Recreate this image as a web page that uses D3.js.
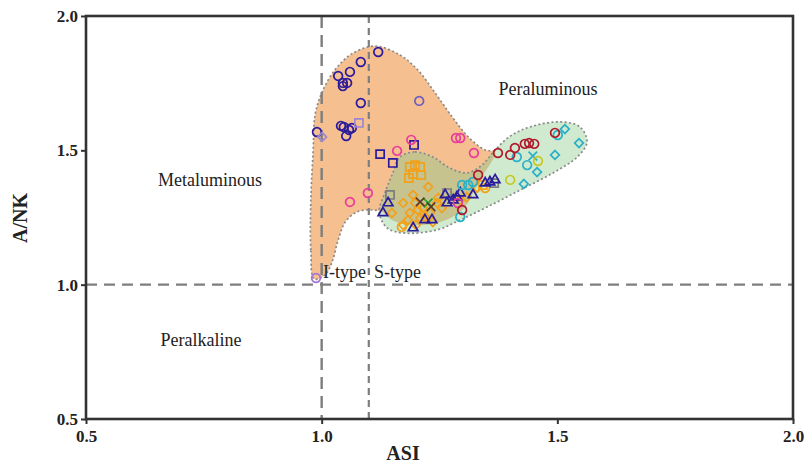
<!DOCTYPE html>
<html>
<head>
<meta charset="utf-8">
<script src="https://cdn.jsdelivr.net/npm/d3@7"></script>
<style>
  body { margin: 0; background: #fff; }
  text { font-family: "Liberation Serif", "DejaVu Serif", serif; }
</style>
</head>
<body>
<svg id="chart" width="808" height="466"></svg>
<script>
// ---- Axes ----
const xTicks = [0.5, 1.0, 1.5, 2.0];
const yTicks = [0.5, 1.0, 1.5, 2.0];
const xTickLabels = ["0.5", "1.0", "1.5", "2.0"];
const yTickLabels = ["0.5", "1.0", "1.5", "2.0"];

// ---- Reference lines (ASI = 1.0, ASI = 1.1, A/NK = 1.0) ----
const asiMeta = 1.0;
const asiIS = 1.1;
const ankAlk = 1.0;

// ---- Sample fields [ASI, A/NK] ----
const orangeField = [
  [0.984, 1.021], [0.977, 1.129], [0.977, 1.315], [0.982, 1.501], [0.986, 1.632],
  [1.001, 1.717], [1.028, 1.799], [1.064, 1.859], [1.113, 1.888], [1.166, 1.855],
  [1.204, 1.799], [1.241, 1.713], [1.277, 1.624], [1.311, 1.550], [1.347, 1.501],
  [1.368, 1.494], [1.336, 1.390], [1.298, 1.278], [1.251, 1.233], [1.187, 1.222],
  [1.149, 1.241], [1.128, 1.271], [1.107, 1.278], [1.075, 1.271], [1.050, 1.233],
  [1.035, 1.166], [1.022, 1.084], [1.007, 1.036]
];
const greenField = [
  [1.166, 1.475], [1.198, 1.494], [1.236, 1.475], [1.272, 1.434], [1.308, 1.416],
  [1.340, 1.445], [1.368, 1.501], [1.400, 1.553], [1.442, 1.587], [1.506, 1.606],
  [1.548, 1.587], [1.563, 1.531], [1.542, 1.475], [1.491, 1.416], [1.421, 1.352],
  [1.351, 1.289], [1.294, 1.241], [1.245, 1.204], [1.177, 1.192], [1.139, 1.211],
  [1.122, 1.271], [1.134, 1.341], [1.151, 1.416]
];

// ---- Samples [ASI, A/NK] ----
const navyCircles = [
  [1.120, 1.866], [1.083, 1.829], [1.060, 1.792], [1.035, 1.777], [1.045, 1.751],
  [1.054, 1.751], [1.045, 1.739], [1.083, 1.676], [0.990, 1.568], [1.041, 1.591],
  [1.047, 1.587], [1.064, 1.583], [1.058, 1.576], [1.052, 1.553]
];
const slateCircles = [[1.207, 1.684]];
const violetCircles = [[0.988, 1.025]];
const violetSquares = [[1.079, 1.602]];
const violetDiamonds = [[1.001, 1.550]];
const navySquares = [[1.124, 1.486], [1.151, 1.453], [1.196, 1.520]];
const pinkCircles = [
  [1.160, 1.498], [1.190, 1.539], [1.285, 1.546], [1.294, 1.546], [1.323, 1.490],
  [1.060, 1.308], [1.098, 1.341], [1.289, 1.304]
];
const orangeSquares = [
  [1.187, 1.438], [1.198, 1.445], [1.209, 1.438], [1.194, 1.412], [1.211, 1.408],
  [1.185, 1.397], [1.342, 1.371]
];
const orangeDiamonds = [
  [1.226, 1.364], [1.149, 1.267], [1.194, 1.334], [1.173, 1.304], [1.198, 1.304],
  [1.204, 1.278], [1.215, 1.285], [1.187, 1.267], [1.209, 1.248], [1.219, 1.252],
  [1.173, 1.222], [1.247, 1.323], [1.255, 1.285], [1.245, 1.304], [1.294, 1.315],
  [1.308, 1.326], [1.330, 1.360], [1.183, 1.241], [1.230, 1.267], [1.236, 1.233],
  [1.200, 1.222]
];
const orangeCircles = [[1.347, 1.360], [1.170, 1.215]];
const navyTriangles = [
  [1.141, 1.304], [1.130, 1.267], [1.194, 1.211], [1.219, 1.241], [1.234, 1.241],
  [1.266, 1.304], [1.279, 1.315], [1.262, 1.334], [1.294, 1.341], [1.321, 1.334],
  [1.347, 1.378], [1.357, 1.382], [1.368, 1.390], [1.287, 1.326]
];
const greySquares = [[1.145, 1.334], [1.266, 1.341], [1.366, 1.378]];
const tealCircles = [
  [1.298, 1.371], [1.311, 1.371], [1.321, 1.382], [1.294, 1.252], [1.414, 1.475],
  [1.436, 1.445], [1.501, 1.557]
];
const tealDiamonds = [
  [1.516, 1.579], [1.546, 1.527], [1.495, 1.483], [1.457, 1.419], [1.429, 1.375]
];
const tealCrosses = [[1.448, 1.479]];
const redCircles = [
  [1.374, 1.490], [1.400, 1.483], [1.410, 1.509], [1.431, 1.524], [1.440, 1.527],
  [1.451, 1.524], [1.495, 1.565], [1.332, 1.408], [1.298, 1.278]
];
const limeCircles = [[1.459, 1.460], [1.400, 1.390]];
const greenCrosses = [[1.226, 1.304]];
const darkCrosses = [[1.209, 1.308], [1.232, 1.290]];

// ---- Marker styles per sample group ----
const groups = [
  { pts: orangeDiamonds, shape: "diamond", color: "#f2a11a" },
  { pts: orangeSquares, shape: "square", color: "#f2a11a" },
  { pts: orangeCircles, shape: "circle", color: "#f2a11a" },
  { pts: greySquares, shape: "square", color: "#7c7c7c" },
  { pts: navyTriangles, shape: "triangle", color: "#2a1a9c" },
  { pts: navyCircles, shape: "circle", color: "#2a1a9c" },
  { pts: navySquares, shape: "square", color: "#2a1a9c" },
  { pts: slateCircles, shape: "circle", color: "#6f5cc0" },
  { pts: violetCircles, shape: "circle", color: "#a474d6" },
  { pts: violetSquares, shape: "square", color: "#9c86d2" },
  { pts: violetDiamonds, shape: "diamond", color: "#9c86d2" },
  { pts: pinkCircles, shape: "circle", color: "#ea3c9c" },
  { pts: tealCircles, shape: "circle", color: "#2ab0c8" },
  { pts: tealDiamonds, shape: "diamond", color: "#2ab0c8" },
  { pts: tealCrosses, shape: "x", color: "#2ab0c8" },
  { pts: redCircles, shape: "circle", color: "#b2182b" },
  { pts: limeCircles, shape: "circle", color: "#c6c822" },
  { pts: greenCrosses, shape: "x", color: "#2ca02c" },
  { pts: darkCrosses, shape: "x", color: "#5a3a2a" }
];

// ---- Layout ----
const svg = d3.select("#chart");
const x = d3.scaleLinear().domain([0.5, 2.0]).range([86, 793]);
const y = d3.scaleLinear().domain([0.5, 2.0]).range([419, 16]);

const defs = svg.append("defs");
const line = d3.line().x(d => x(d[0])).y(d => y(d[1])).curve(d3.curveCatmullRomClosed.alpha(0.5));

defs.append("clipPath").attr("id", "orangeClip")
  .append("path").attr("d", line(orangeField));
const mask = defs.append("mask").attr("id", "outsideGreen");
mask.append("rect").attr("x", 0).attr("y", 0).attr("width", 808).attr("height", 466).attr("fill", "#fff");
mask.append("path").attr("d", line(greenField)).attr("fill", "#000");

// Fields
svg.append("path").attr("d", line(orangeField)).attr("fill", "#f6bf90");
svg.append("path").attr("d", line(greenField)).attr("fill", "#d0eacf");
svg.append("path").attr("d", line(greenField)).attr("fill", "#c6c38f")
  .attr("clip-path", "url(#orangeClip)");
svg.append("path").attr("d", line(orangeField)).attr("fill", "none")
  .attr("stroke", "#8a8a8a").attr("stroke-width", 1.7).attr("stroke-dasharray", "2,2.4")
  .attr("mask", "url(#outsideGreen)");
svg.append("path").attr("d", line(greenField)).attr("fill", "none")
  .attr("stroke", "#8a8a8a").attr("stroke-width", 1.7).attr("stroke-dasharray", "2,2.4");

// Reference lines
const refColor = "#7e7e7e";
svg.append("line").attr("x1", x(asiMeta)).attr("x2", x(asiMeta)).attr("y1", y(2.0)).attr("y2", y(0.5))
  .attr("stroke", refColor).attr("stroke-width", 2.4).attr("stroke-dasharray", "12,7");
svg.append("line").attr("x1", x(asiIS)).attr("x2", x(asiIS)).attr("y1", y(2.0)).attr("y2", y(0.5))
  .attr("stroke", refColor).attr("stroke-width", 2.2).attr("stroke-dasharray", "7,5");
svg.append("line").attr("x1", x(0.5)).attr("x2", x(2.0)).attr("y1", y(ankAlk)).attr("y2", y(ankAlk))
  .attr("stroke", refColor).attr("stroke-width", 2.4).attr("stroke-dasharray", "11,7");

// Samples
const symbolType = {
  circle: d3.symbolCircle, square: d3.symbolSquare, diamond: d3.symbolSquare,
  triangle: d3.symbolTriangle, x: d3.symbolX
};
const symbolSize = { circle: 60, square: 66, diamond: 38, triangle: 40, x: 50 };
groups.forEach(g => {
  const rot = g.shape === "diamond" ? " rotate(45)" : "";
  svg.append("g").selectAll("path").data(g.pts).join("path")
    .attr("transform", d => `translate(${x(d[0])},${y(d[1])})${rot}`)
    .attr("d", d3.symbol().type(symbolType[g.shape]).size(symbolSize[g.shape]))
    .attr("fill", "none").attr("stroke", g.color).attr("stroke-width", 1.7);
});

// Frame and axes
const axisColor = "#333";
svg.append("rect").attr("x", x(0.5)).attr("y", y(2.0)).attr("width", x(2.0) - x(0.5)).attr("height", y(0.5) - y(2.0))
  .attr("fill", "none").attr("stroke", axisColor).attr("stroke-width", 2.6);

const xAxis = svg.append("g").attr("transform", `translate(0,${y(0.5)})`)
  .call(d3.axisBottom(x).tickValues(xTicks).tickFormat((d, i) => xTickLabels[i]).tickSize(5).tickSizeOuter(0).tickPadding(6));
const yAxis = svg.append("g").attr("transform", `translate(${x(0.5)},0)`)
  .call(d3.axisLeft(y).tickValues(yTicks).tickFormat((d, i) => yTickLabels[i]).tickSize(5).tickSizeOuter(0).tickPadding(3));
[xAxis, yAxis].forEach(a => {
  a.select(".domain").remove();
  a.selectAll(".tick line").attr("stroke", axisColor).attr("stroke-width", 2);
  a.selectAll(".tick text").attr("fill", "#222").style("font-family", '"Liberation Serif", serif')
    .style("font-size", "17px").style("font-weight", "bold");
});

// Axis titles
svg.append("text").attr("x", 403).attr("y", 460).attr("text-anchor", "middle")
  .style("font-size", "20px").style("font-weight", "bold").attr("fill", "#222").text("ASI");
svg.append("text").attr("transform", "translate(27,218) rotate(-90)").attr("text-anchor", "middle")
  .style("font-size", "20px").style("font-weight", "bold").attr("fill", "#222").text("A/NK");

// Field labels
const label = (t, px, py, anchor) => svg.append("text").attr("x", px).attr("y", py)
  .attr("text-anchor", anchor || "middle").style("font-size", "18px").attr("fill", "#222").text(t);
label("Metaluminous", 210, 186);
label("Peraluminous", 548, 95);
label("Peralkaline", 201, 346);
label("I-type", 323, 278, "start");
label("S-type", 374, 278, "start");
</script>
</body>
</html>
